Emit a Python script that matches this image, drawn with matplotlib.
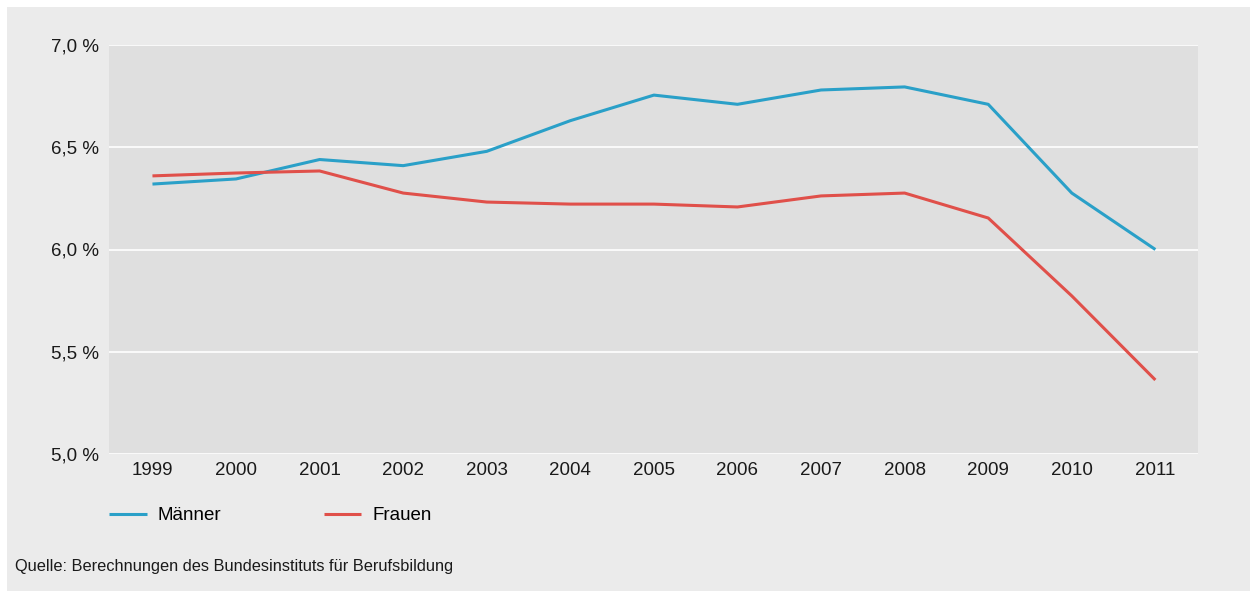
import numpy as np
import matplotlib.pyplot as plt
from matplotlib.patches import Rectangle
from matplotlib.ticker import FuncFormatter

plt.rcParams['font.family'] = ['Liberation Sans', 'DejaVu Sans']

years = [1999, 2000, 2001, 2002, 2003, 2004, 2005, 2006, 2007, 2008, 2009, 2010, 2011]
maenner = [6.32, 6.345, 6.44, 6.41, 6.48, 6.63, 6.755, 6.71, 6.78, 6.795, 6.71, 6.276, 6.0]
frauen = [6.36, 6.374, 6.384, 6.276, 6.232, 6.222, 6.222, 6.208, 6.262, 6.276, 6.154, 5.773, 5.362]
yticks = [5.0, 5.5, 6.0, 6.5, 7.0]

W, H = 1250, 591
fig = plt.figure(figsize=(W / 100, H / 100), dpi=100)
fig.patch.set_facecolor('white')
# light gray panel behind everything
fig.patches.append(Rectangle((7 / W, 0), 1 - 7 / W, 1 - 7 / H, transform=fig.transFigure,
                             facecolor='#ebebeb', edgecolor='none', zorder=-10))

ax = fig.add_axes([109 / W, 1 - 454 / H, (1198 - 109) / W, (454 - 45) / H])
ax.set_facecolor('#dfdfdf')
for s in ax.spines.values():
    s.set_visible(False)

ax.plot(years, maenner, color='#2aa0c8', lw=2.2, label='Männer', solid_capstyle='butt')
ax.plot(years, frauen, color='#e0504a', lw=2.2, label='Frauen', solid_capstyle='butt')

ax.set_ylim(5.0, 7.0)
ax.set_xlim(1998.48, 2011.51)
ax.set_yticks(yticks)
ax.set_xticks(years)
ax.yaxis.set_major_formatter(FuncFormatter(lambda v, p: f'{v:.1f} %'.replace('.', ',')))
ax.grid(axis='y', color='white', lw=1.2)
ax.set_axisbelow(True)
ax.tick_params(length=0, labelsize=13.5, colors='#1a1a1a')
ax.tick_params(axis='y', pad=7)
ax.tick_params(axis='x', pad=6)

ax.legend(loc='upper left', bbox_to_anchor=(109 / W, 1 - 507 / H), bbox_transform=fig.transFigure,
          ncol=2, frameon=False, fontsize=13.5, handlelength=2.0, handletextpad=0.6,
          columnspacing=5.45, borderaxespad=0, borderpad=0)

fig.text(15 / W, 1 - 567 / H, 'Quelle: Berechnungen des Bundesinstituts für Berufsbildung',
         fontsize=11.8, color='#1a1a1a', va='center', ha='left')

fig.savefig('out.png', dpi=100, facecolor=fig.get_facecolor())
